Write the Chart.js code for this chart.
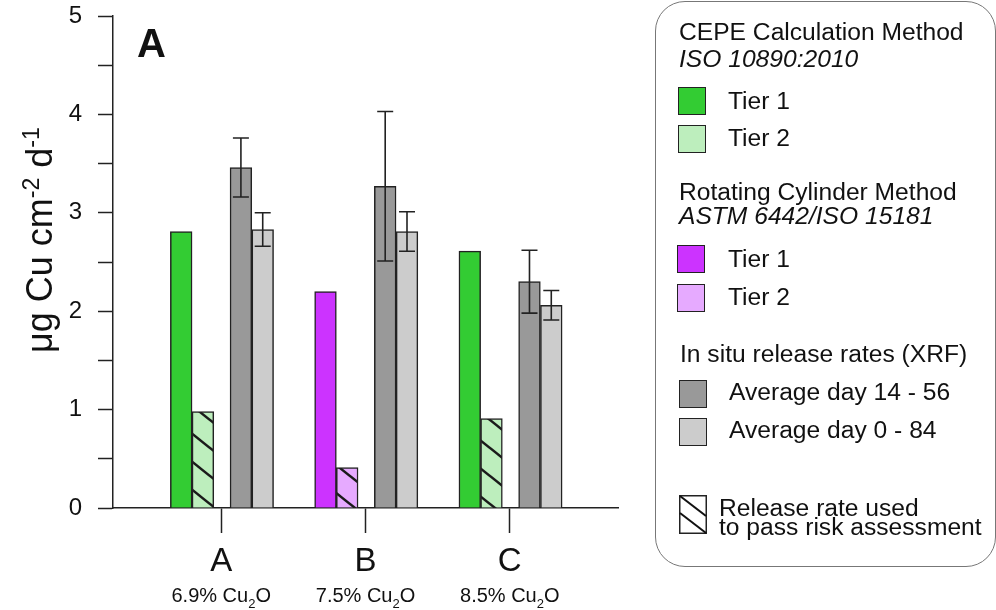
<!DOCTYPE html>
<html><head><meta charset="utf-8">
<script src="https://cdn.jsdelivr.net/npm/chart.js@4/dist/chart.umd.min.js"></script>
<style>
html,body{margin:0;padding:0;background:#fff;overflow:hidden}
#wrap{position:relative;width:996px;height:610px;font-family:"Liberation Sans",Arial,sans-serif;color:#111}
canvas{position:absolute;left:0;top:0}
#legend{position:absolute;left:655px;top:1px;width:341px;height:566px;border:1.5px solid #777;border-radius:30px;box-sizing:border-box}
.t{position:absolute;font-size:23px;line-height:23px;white-space:nowrap;transform:scaleX(1.07);transform-origin:0 0}
.i{font-style:italic}
.sw{position:absolute;width:28px;height:28px;box-sizing:border-box;border:1.5px solid #222}
</style></head>
<body>
<div id="wrap">
<canvas id="c" width="996" height="610"></canvas>
<div id="legend"></div>
<div class="t" style="left:679px;top:21px">CEPE Calculation Method</div>
<div class="t i" style="left:679px;top:48px">ISO 10890:2010</div>
<div class="sw" style="left:678px;top:87px;background:#33cc33"></div>
<div class="t" style="left:728px;top:90px">Tier 1</div>
<div class="sw" style="left:678px;top:125px;background:#bdeebd"></div>
<div class="t" style="left:728px;top:127px">Tier 2</div>
<div class="t" style="left:679px;top:181px">Rotating Cylinder Method</div>
<div class="t i" style="left:679px;top:205px">ASTM 6442/ISO 15181</div>
<div class="sw" style="left:677px;top:245px;background:#cc33ff"></div>
<div class="t" style="left:728px;top:248px">Tier 1</div>
<div class="sw" style="left:677px;top:284px;background:#e6aaff"></div>
<div class="t" style="left:728px;top:286px">Tier 2</div>
<div class="t" style="left:680px;top:343px">In situ release rates (XRF)</div>
<div class="sw" style="left:679px;top:380px;background:#999999"></div>
<div class="t" style="left:729px;top:381px">Average day 14 - 56</div>
<div class="sw" style="left:679px;top:418px;background:#cccccc"></div>
<div class="t" style="left:729px;top:419px">Average day 0 - 84</div>
<svg style="position:absolute;left:679px;top:495px" width="28" height="39" viewBox="0 0 28 39">
  <rect x="0.75" y="0.75" width="26.5" height="37.5" fill="#fff" stroke="#222" stroke-width="1.5"/>
  <line x1="1" y1="1" x2="27" y2="21" stroke="#111" stroke-width="2"/>
  <line x1="1" y1="18" x2="27" y2="38" stroke="#111" stroke-width="2"/>
</svg>
<div class="t" style="left:719px;top:497px">Release rate used</div>
<div class="t" style="left:719px;top:516px">to pass risk assessment</div>
</div>
<script>
// ---- data ----
const CATEGORIES = ['A', 'B', 'C'];
const CU2O_PERCENT = ['6.9%', '7.5%', '8.5%'];
const TIER1_METHOD = ['CEPE', 'RC', 'CEPE'];
const TIER1 = [2.81, 2.20, 2.61];
const TIER2 = [0.98, 0.41, 0.91];
const DAY14_56 = [3.46, 3.27, 2.30];
const DAY14_56_ERR = [0.30, 0.76, 0.32];
const DAY0_84 = [2.83, 2.81, 2.06];
const DAY0_84_ERR = [0.17, 0.20, 0.15];
const Y_MIN = 0, Y_MAX = 5;

// ---- styling / layout ----
const COLORS = {
  CEPE: {t1: '#33cc33', t2: '#bdeebd'},
  RC:   {t1: '#cc33ff', t2: '#e6aaff'},
  d1456: '#999999', d084: '#cccccc'
};
const X_MIN = -0.75, X_MAX = 2.75;
const PLOT_LEFT = 113, PLOT_RIGHT = 618, PLOT_TOP = 16, PLOT_BOTTOM = 508;
const PX_PER_UNIT = (PLOT_RIGHT - PLOT_LEFT) / (X_MAX - X_MIN);
const SLOT_PX = [-40, -18.3, 19.7, 41.5];
const BAR_W = 21.7;
const FONT = '"Liberation Sans", Arial, sans-serif';
Chart.defaults.font.family = FONT;
Chart.defaults.color = '#111';

function hatch(fill) {
  const c = document.createElement('canvas'); c.width = 35; c.height = 28;
  const g = c.getContext('2d');
  g.fillStyle = fill; g.fillRect(0, 0, 35, 28);
  g.strokeStyle = '#1a1a1a'; g.lineWidth = 2.5;
  for (const k of [-1, 0, 1]) {
    g.beginPath(); g.moveTo(-2, -1.6 + k * 28); g.lineTo(37, 29.6 + k * 28); g.stroke();
  }
  return g.createPattern(c, 'repeat');
}

const pts = (vals, slot) => vals.map((v, i) => ({x: i + SLOT_PX[slot] / PX_PER_UNIT, y: v}));
const common = {grouped: false, barThickness: BAR_W, maxBarThickness: BAR_W, borderWidth: 1.5, borderColor: '#222'};

const errorBars = {
  id: 'errorBars',
  afterDatasetsDraw(chart) {
    const ctx = chart.ctx, ys = chart.scales.y;
    chart.data.datasets.forEach((ds, di) => {
      if (!ds.errors) return;
      chart.getDatasetMeta(di).data.forEach((bar, i) => {
        const v = ds.data[i].y, e = ds.errors[i];
        const top = ys.getPixelForValue(v + e), bot = ys.getPixelForValue(v - e);
        ctx.save(); ctx.strokeStyle = '#222'; ctx.lineWidth = 1.6;
        ctx.beginPath();
        ctx.moveTo(bar.x, top); ctx.lineTo(bar.x, bot);
        ctx.moveTo(bar.x - 8, top); ctx.lineTo(bar.x + 8, top);
        ctx.moveTo(bar.x - 8, bot); ctx.lineTo(bar.x + 8, bot);
        ctx.stroke(); ctx.restore();
      });
    });
  }
};

const annotations = {
  id: 'annotations',
  afterDraw(chart) {
    const ctx = chart.ctx, xs = chart.scales.x, ca = chart.chartArea;
    ctx.save();
    ctx.fillStyle = '#111';
    // panel letter
    ctx.font = 'bold 40px ' + FONT; ctx.textBaseline = 'alphabetic'; ctx.textAlign = 'left';
    ctx.fillText('A', ca.left + 24, ca.top + 41);
    // sub labels
    const mainF = '20px ' + FONT, subF = '13px ' + FONT;
    const base = xs.top + 94;
    CATEGORIES.forEach((c, i) => {
      const parts = [[CU2O_PERCENT[i] + ' Cu', mainF, 0], ['2', subF, 6], ['O', mainF, 0]];
      let w = 0;
      parts.forEach(p => { ctx.font = p[1]; w += ctx.measureText(p[0]).width; });
      let x = xs.getPixelForValue(i) - w / 2;
      parts.forEach(p => { ctx.font = p[1]; ctx.fillText(p[0], x, base + p[2]); x += ctx.measureText(p[0]).width; });
    });
    // y title with superscripts
    ctx.translate(52, 353); ctx.rotate(-Math.PI / 2);
    const big = '36px ' + FONT, sup = '23px ' + FONT;
    const tparts = [['\u03bcg Cu cm', big, 0], ['-2', sup, -13], [' d', big, 0], ['-1', sup, -13]];
    let x = 0;
    tparts.forEach(p => { ctx.font = p[1]; ctx.fillText(p[0], x, p[2]); x += ctx.measureText(p[0]).width; });
    ctx.restore();
  }
};

new Chart(document.getElementById('c'), {
  type: 'bar',
  data: {
    datasets: [
      Object.assign({label: 'Tier 1', data: pts(TIER1, 0),
        backgroundColor: TIER1_METHOD.map(m => COLORS[m].t1)}, common),
      Object.assign({label: 'Tier 2', data: pts(TIER2, 1),
        backgroundColor: TIER1_METHOD.map(m => hatch(COLORS[m].t2))}, common),
      Object.assign({label: 'Average day 14 - 56', data: pts(DAY14_56, 2), errors: DAY14_56_ERR,
        backgroundColor: COLORS.d1456}, common),
      Object.assign({label: 'Average day 0 - 84', data: pts(DAY0_84, 3), errors: DAY0_84_ERR,
        backgroundColor: COLORS.d084}, common)
    ]
  },
  options: {
    responsive: false, animation: false, devicePixelRatio: 1,
    layout: {padding: {left: 0, right: 996 - PLOT_RIGHT, top: PLOT_TOP, bottom: 0}},
    plugins: {legend: {display: false}, tooltip: {enabled: false}},
    scales: {
      x: {
        type: 'linear', min: X_MIN, max: X_MAX, offset: false,
        afterBuildTicks: s => { s.ticks = CATEGORIES.map((c, i) => ({value: i})); },
        afterFit: s => { s.height = 610 - PLOT_BOTTOM; s.paddingLeft = 0; s.paddingRight = 0; },
        ticks: {callback: v => CATEGORIES[v], font: {size: 33}, color: '#111', padding: 9, autoSkip: false, maxRotation: 0},
        grid: {offset: false, drawOnChartArea: false, drawTicks: true, tickLength: 25, tickColor: '#222', tickWidth: 1.5},
        border: {color: '#222', width: 1.5}
      },
      y: {
        min: Y_MIN, max: Y_MAX,
        afterFit: s => { s.width = PLOT_LEFT; s.paddingTop = 0; s.paddingBottom = 0; },
        ticks: {stepSize: 0.5, callback: v => Number.isInteger(v) ? String(v) : '', font: {size: 24}, color: '#111', padding: 16},
        grid: {drawOnChartArea: false, drawTicks: true, tickLength: 15, tickColor: '#222', tickWidth: 1.5},
        border: {color: '#222', width: 1.5}
      }
    }
  },
  plugins: [errorBars, annotations]
});
</script>
</body></html>
